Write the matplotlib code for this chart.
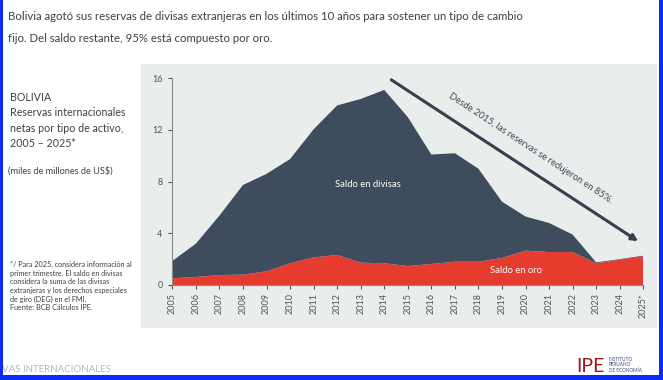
import matplotlib
matplotlib.use("Agg")
import matplotlib.pyplot as plt
from matplotlib.patches import Rectangle
import numpy as np

plt.rcParams['font.family'] = ['Lato', 'DejaVu Sans']

years = list(range(2005, 2026))
year_labels = [str(y) for y in years[:-1]] + ['2025*']
oro = [0.52, 0.62, 0.77, 0.80, 1.06, 1.68, 2.14, 2.32, 1.73, 1.68, 1.47,
       1.63, 1.80, 1.80, 2.09, 2.66, 2.55, 2.55, 1.68, 1.96, 2.22]
total = [1.86, 3.20, 5.37, 7.74, 8.60, 9.75, 12.05, 13.90, 14.40, 15.10, 13.00,
         10.10, 10.20, 9.00, 6.45, 5.30, 4.80, 3.90, 1.75, 2.00, 2.27]
divisas = [t - o for t, o in zip(total, oro)]

navy = '#3f4c5e'
red = '#e63c2f'
panel = '#e9edec'
txt = '#404040'
blue = '#0a2cf5'

fig = plt.figure(figsize=(6.63, 3.80), dpi=100)
W, H = 663, 380

def fx(px):
    return px / W

def fy(py):
    return 1 - py / H

# gray panel behind the chart
fig.patches.append(Rectangle((fx(141), fy(328)), fx(657) - fx(141), fy(64) - fy(328),
                             transform=fig.transFigure, facecolor=panel, edgecolor='none', zorder=-1))
# blue frame
for (x0, y0, w, h) in [(0, 0, 3, 380), (659, 0, 4, 380), (0, 375, 663, 5)]:
    fig.patches.append(Rectangle((fx(x0), fy(y0 + h)), w / W, h / H,
                                 transform=fig.transFigure, facecolor=blue, edgecolor='none', zorder=5))

ax = fig.add_axes([fx(172.3), fy(285), fx(643.3) - fx(172.3), fy(78.3) - fy(285)])
ax.set_zorder(1)
ax.set_facecolor(panel)
ax.stackplot(years, oro, divisas, colors=[red, navy], linewidth=0)
ax.set_xlim(2005, 2025)
ax.set_ylim(0, 16)
ax.set_yticks([0, 4, 8, 12, 16])
ax.set_xticks(years)
ax.set_xticklabels(year_labels, rotation=90, fontsize=6.5, color='#555555')
ax.tick_params(axis='y', labelsize=6.5, colors='#555555', length=3, pad=4)
ax.tick_params(axis='x', colors='#555555', length=3, pad=3)
for s in ['top', 'right']:
    ax.spines[s].set_visible(False)
for s in ['left', 'bottom']:
    ax.spines[s].set_color('#8a8a8a')
    ax.spines[s].set_linewidth(0.8)

ax.text(2013.3, 7.8, 'Saldo en divisas', color='white', fontsize=6.8, ha='center', va='center')
ax.text(2019.6, 1.1, 'Saldo en oro', color='white', fontsize=6.8, ha='center', va='center')

ax.annotate('', xy=(2024.88, 3.27), xytext=(2014.2, 16.0),
            arrowprops=dict(arrowstyle='-|>', color='#36414f', lw=2.2, mutation_scale=9),
            annotation_clip=False)
ax.text(2020.2, 10.6, 'Desde 2015, las reservas se redujeron en 85%.', rotation=-33.2,
        rotation_mode='anchor', ha='center', va='center', fontsize=6.8, color='#404a58')

# title
fig.text(fx(8), fy(20), 'Bolivia agotó sus reservas de divisas extranjeras en los últimos 10 años para sostener un tipo de cambio',
         fontsize=8.2, color=txt, va='baseline')
fig.text(fx(8), fy(42), 'fijo. Del saldo restante, 95% está compuesto por oro.',
         fontsize=8.2, color=txt, va='baseline')

# left side text
left_lines = ['BOLIVIA', 'Reservas internacionales', 'netas por tipo de activo,', '2005 – 2025*']
for i, s in enumerate(left_lines):
    fig.text(fx(10), fy(101 + i * 15.5), s, fontsize=7.7, color=txt, va='baseline')
fig.text(fx(8), fy(174), '(miles de millones de US$)', fontsize=6.6, color=txt, va='baseline')

notes = ['*/ Para 2025, considera información al', 'primer trimestre. El saldo en divisas',
         'considera la suma de las divisas', 'extranjeras y los derechos especiales',
         'de giro (DEG) en el FMI.', 'Fuente: BCB Cálculos IPE.']
for i, s in enumerate(notes):
    fig.text(fx(10), fy(267 + i * 8.6), s, fontsize=5.2, color=txt, va='baseline')

# footer
fig.text(fx(2), fy(372), 'VAS INTERNACIONALES', fontsize=7, color='#b0b8c4', va='baseline')
fig.text(fx(576), fy(372), 'IPE', fontsize=14, color='#a3141b', va='baseline')
for i, s in enumerate(['INSTITUTO', 'PERUANO', 'DE ECONOMÍA']):
    fig.text(fx(609), fy(361 + i * 5.5), s, fontsize=3.4, color='#3a4a7a', va='baseline')

fig.savefig('out.png', dpi=100, facecolor='white')
